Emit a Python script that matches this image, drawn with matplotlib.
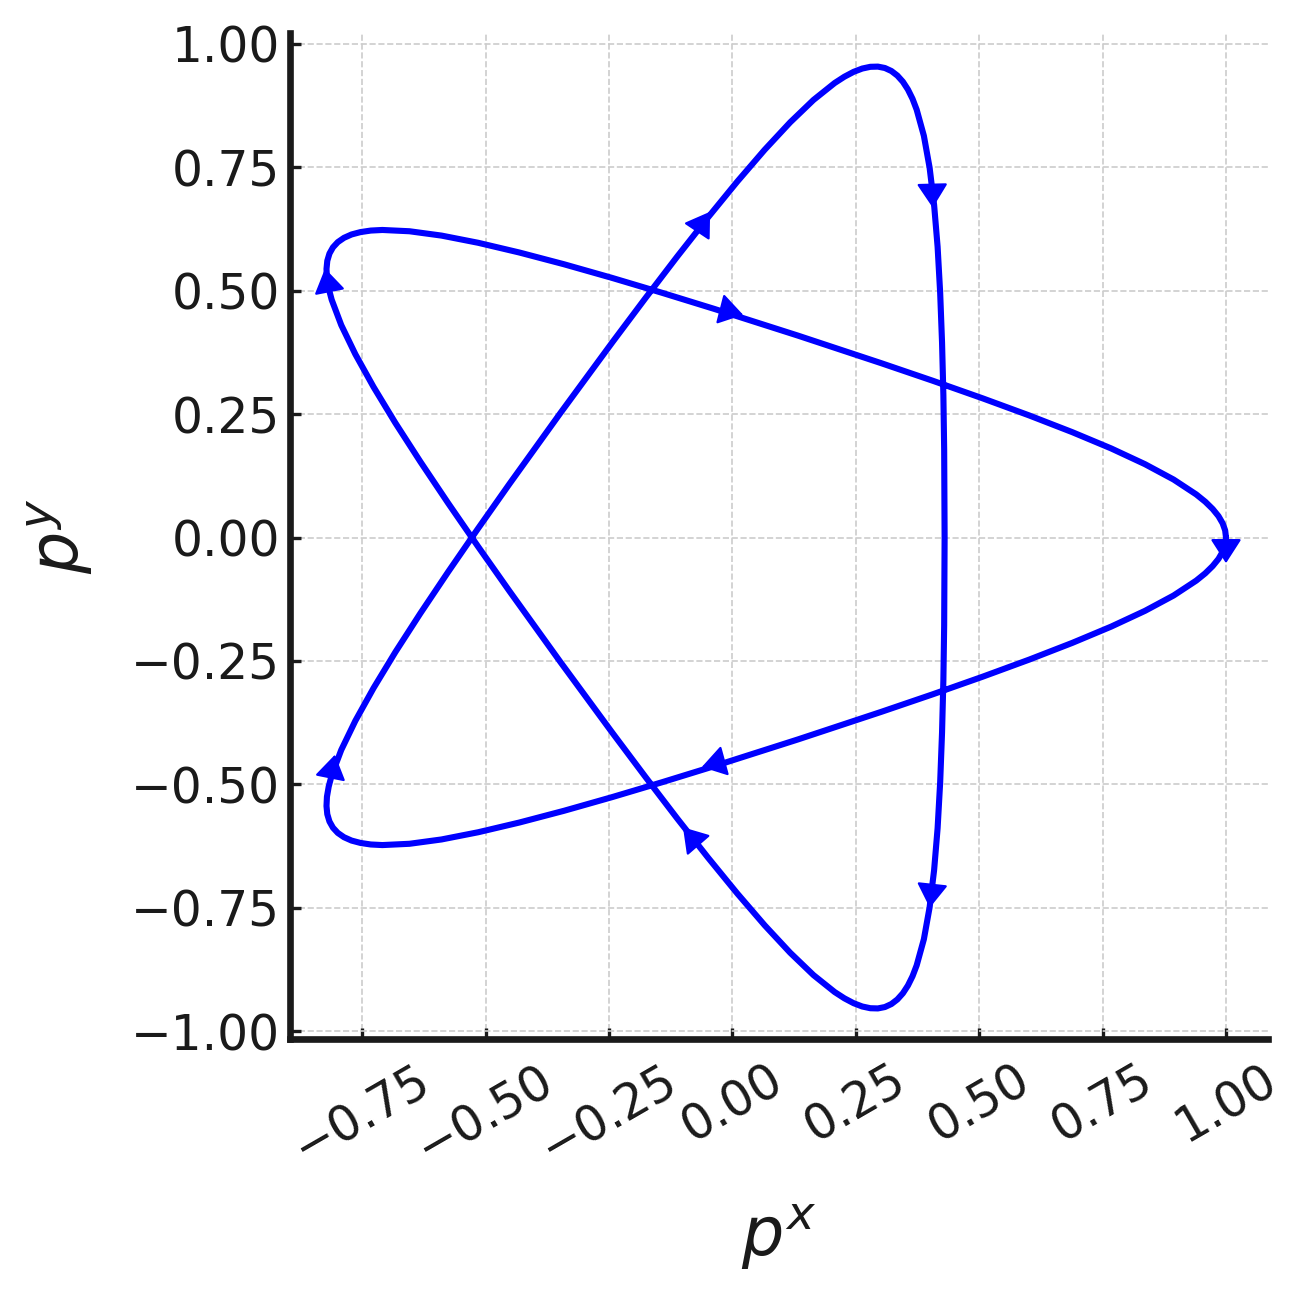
import matplotlib
matplotlib.use("Agg")
import matplotlib.pyplot as plt

# ── Data (traversal order from the right tip) ──
px = [1.0000, 0.9983, 0.9932, 0.9848, 0.9730, 0.9580, 0.9397, 0.8938, 0.8360,
      0.7673, 0.6887, 0.6014, 0.5069, 0.4065, 0.3018, 0.1329,
      -0.0366, -0.1423, -0.2443, -0.3412, -0.4317, -0.5147, -0.5890, -0.6540,
      -0.7089, -0.7324, -0.7532, -0.7713, -0.7866, -0.7992, -0.8090,
      -0.8161, -0.8205, -0.8221, -0.8212, -0.8176, -0.8116, -0.7922, -0.7636,
      -0.7268, -0.6826, -0.6319, -0.5758, -0.5154, -0.4517, -0.3479,
      -0.2426, -0.1762, -0.1116, -0.0493, 0.0099, 0.0655, 0.1171, 0.1644,
      0.2073, 0.2271, 0.2457, 0.2632, 0.2796, 0.2948, 0.3090,
      0.3222, 0.3343, 0.3455, 0.3557, 0.3650, 0.3734, 0.3880, 0.3996, 0.4087,
      0.4158, 0.4210, 0.4248, 0.4275, 0.4291, 0.4300,
      0.4291, 0.4275, 0.4248, 0.4210, 0.4158, 0.4087, 0.3996, 0.3880, 0.3734,
      0.3650, 0.3557, 0.3455, 0.3343, 0.3222, 0.3090,
      0.2948, 0.2796, 0.2632, 0.2457, 0.2271, 0.2073, 0.1644, 0.1171, 0.0655,
      0.0099, -0.0493, -0.1116, -0.1762, -0.2426, -0.3479,
      -0.4517, -0.5154, -0.5758, -0.6319, -0.6826, -0.7268, -0.7636, -0.7922,
      -0.8116, -0.8176, -0.8212, -0.8221, -0.8205, -0.8161, -0.8090,
      -0.7992, -0.7866, -0.7713, -0.7532, -0.7324, -0.7089, -0.6540, -0.5890,
      -0.5147, -0.4317, -0.3412, -0.2443, -0.1423, -0.0366, 0.1329,
      0.3018, 0.4065, 0.5069, 0.6014, 0.6887, 0.7673, 0.8360, 0.8938, 0.9397,
      0.9580, 0.9730, 0.9848, 0.9932, 0.9983, 1.0000]
py = [0.0000, -0.0144, -0.0288, -0.0433, -0.0578, -0.0725, -0.0873, -0.1175,
      -0.1485, -0.1805, -0.2134, -0.2473, -0.2820, -0.3174, -0.3531, -0.4090,
      -0.4631, -0.4957, -0.5261, -0.5536, -0.5774, -0.5970, -0.6116, -0.6204,
      -0.6230, -0.6218, -0.6187, -0.6139, -0.6071, -0.5984, -0.5878,
      -0.5752, -0.5605, -0.5439, -0.5251, -0.5044, -0.4817, -0.4303, -0.3712,
      -0.3050, -0.2321, -0.1535, -0.0698, 0.0178, 0.1083, 0.2527,
      0.3961, 0.4847, 0.5692, 0.6484, 0.7209, 0.7855, 0.8410, 0.8864, 0.9207,
      0.9335, 0.9433, 0.9500, 0.9535, 0.9539, 0.9511,
      0.9450, 0.9357, 0.9232, 0.9075, 0.8887, 0.8667, 0.8137, 0.7492, 0.6740,
      0.5890, 0.4956, 0.3949, 0.2885, 0.1779, 0.0000,
      -0.1779, -0.2885, -0.3949, -0.4956, -0.5890, -0.6740, -0.7492, -0.8137,
      -0.8667, -0.8887, -0.9075, -0.9232, -0.9357, -0.9450, -0.9511,
      -0.9539, -0.9535, -0.9500, -0.9433, -0.9335, -0.9207, -0.8864, -0.8410,
      -0.7855, -0.7209, -0.6484, -0.5692, -0.4847, -0.3961, -0.2527,
      -0.1083, -0.0178, 0.0698, 0.1535, 0.2321, 0.3050, 0.3712, 0.4303,
      0.4817, 0.5044, 0.5251, 0.5439, 0.5605, 0.5752, 0.5878,
      0.5984, 0.6071, 0.6139, 0.6187, 0.6218, 0.6230, 0.6204, 0.6116,
      0.5970, 0.5774, 0.5536, 0.5261, 0.4957, 0.4631, 0.4090,
      0.3531, 0.3174, 0.2820, 0.2473, 0.2134, 0.1805, 0.1485, 0.1175, 0.0873,
      0.0725, 0.0578, 0.0433, 0.0288, 0.0144, 0.0000]

# direction arrows: tail point -> head tip
arrow_from = [(0.405, 0.710), (1.000, 0.003), (0.405, -0.704), (-0.815, 0.494),
              (-0.815, -0.490), (-0.071, 0.621), (-0.017, 0.461),
              (-0.018, -0.453), (-0.074, -0.617)]
arrow_to = [(0.406, 0.668), (1.000, -0.052), (0.400, -0.750), (-0.825, 0.545),
            (-0.805, -0.440), (-0.045, 0.660), (0.022, 0.451),
            (-0.062, -0.465), (-0.100, -0.587)]

xticks = [-0.75, -0.50, -0.25, 0.00, 0.25, 0.50, 0.75, 1.00]
yticks = [-1.00, -0.75, -0.50, -0.25, 0.00, 0.25, 0.50, 0.75, 1.00]

# ── Style ────────────────────────────────────────────────────────────────────
BLUE = "#0000FF"
INK = "#1a1a1a"

fig = plt.figure(figsize=(6.47, 6.47), dpi=200)
ax = fig.add_axes([0.224, 0.197, 0.756, 0.7775])

ax.plot(px, py, color=BLUE, lw=2.2, solid_joinstyle="round",
        solid_capstyle="round", zorder=3)

for (x0, y0), (x1, y1) in zip(arrow_from, arrow_to):
    ax.annotate("", xy=(x1, y1), xytext=(x0, y0),
                arrowprops=dict(arrowstyle="-|>,head_length=0.7,head_width=0.45",
                                color=BLUE, lw=0.8, mutation_scale=10.8,
                                shrinkA=0, shrinkB=0),
                zorder=4)

ax.set_xlim(-0.896, 1.085)
ax.set_ylim(-1.016, 1.022)
ax.set_aspect("equal")

ax.set_xticks(xticks)
ax.set_yticks(yticks)
ax.set_xticklabels([f"{v:.2f}".replace("-", "\u2212") for v in xticks],
                   rotation=30, ha="center")
ax.set_yticklabels([f"{v:.2f}".replace("-", "\u2212") for v in yticks])
ax.tick_params(direction="in", length=4, width=1.2, labelsize=17.5,
               colors=INK)
ax.tick_params(axis="y", pad=3.5)
ax.tick_params(axis="x", pad=6)

ax.grid(True, ls="--", color="#cccccc", lw=0.6)
ax.set_axisbelow(True)
for s in ["top", "right"]:
    ax.spines[s].set_visible(False)
for s in ["left", "bottom"]:
    ax.spines[s].set_linewidth(2.4)
    ax.spines[s].set_color(INK)

ax.set_xlabel("$p^x$", fontsize=24, color=INK, labelpad=11)
ax.set_ylabel("$p^y$", fontsize=24, color=INK, labelpad=13)

fig.savefig("out.png", dpi=200)
